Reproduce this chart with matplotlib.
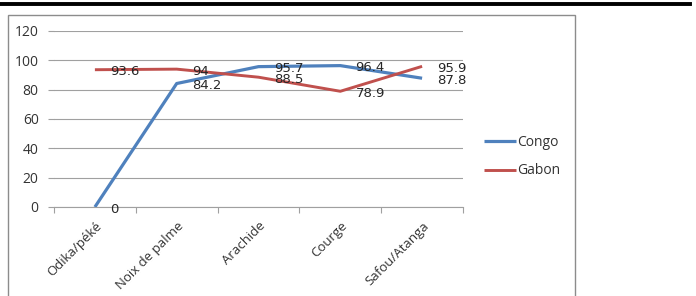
import matplotlib.pyplot as plt
from matplotlib.patches import Rectangle
from matplotlib.lines import Line2D

# data
categories = ["Odika/péké", "Noix de palme", "Arachide", "Courge", "Safou/Atanga"]
congo = [0, 84.2, 95.7, 96.4, 87.8]
gabon = [93.6, 94, 88.5, 78.9, 95.9]
y_ticks = [0, 20, 40, 60, 80, 100, 120]

blue = "#4F81BD"
red = "#C0504D"
W, H = 696, 296

fig = plt.figure(figsize=(W / 100, H / 100), dpi=100)

# thick rule at the top of the page and the chart frame
fig.add_artist(Line2D([0, 690 / W], [1 - 3.5 / H, 1 - 3.5 / H], color="black",
                      lw=2.8, transform=fig.transFigure))
fig.add_artist(Rectangle((7.5 / W, -0.05), (575 - 7.5) / W, 1.05 - 15 / H,
                         transform=fig.transFigure, fill=False,
                         edgecolor="#8c8c8c", lw=1.0))

ax = fig.add_axes([54 / W, 89 / H, (463 - 54) / W, (207 - 31) / H])
x = list(range(len(categories)))
ax.plot(x, congo, color=blue, lw=2.3, solid_capstyle="butt", label="Congo", zorder=3)
ax.plot(x, gabon, color=red, lw=2.1, solid_capstyle="butt", label="Gabon", zorder=4)

lab_font = dict(family="DejaVu Sans", size=9.5, color="#262626", va="center", ha="left")
for xi, v in zip(x, congo):
    ax.annotate(f"{v:g}", (xi, v), xytext=(11, -1.5), textcoords="offset points",
                zorder=5, **lab_font)
for xi, v in zip(x, gabon):
    ax.annotate(f"{v:g}", (xi, v), xytext=(11, -1.5), textcoords="offset points",
                zorder=5, **lab_font)

ax.set_xlim(-0.5, len(categories) - 0.5)
ax.set_ylim(0, 120)
ax.set_yticks(y_ticks)
ax.yaxis.grid(True, color="#a0a0a0", lw=0.8)
ax.set_axisbelow(True)

for s in ["top", "right", "left"]:
    ax.spines[s].set_visible(False)
ax.spines["bottom"].set_color("#a0a0a0")
ax.spines["bottom"].set_linewidth(0.8)

ax.tick_params(axis="y", length=4, width=0.8, color="#a0a0a0", pad=7,
               labelsize=10, labelcolor="#333333")
for t in ax.get_yticklabels():
    t.set_fontfamily("Open Sans")

ax.set_xticks(x)
ax.set_xticks([i - 0.5 for i in range(len(categories) + 1)], minor=True)
ax.set_xticklabels(categories, rotation=45, ha="right", rotation_mode="anchor",
                   fontfamily="Open Sans", fontsize=9.5, color="#333333")
ax.tick_params(axis="x", which="major", length=0, pad=9)
ax.tick_params(axis="x", which="minor", length=4, width=0.8, color="#a0a0a0")

leg = ax.legend(loc="center left", bbox_to_anchor=(1.02, 0.285), frameon=False,
                handlelength=2.3, handletextpad=0.1, labelspacing=0.95,
                prop=dict(family="Open Sans", size=10))
for t in leg.get_texts():
    t.set_color("#333333")

fig.savefig("out.png", dpi=100)
